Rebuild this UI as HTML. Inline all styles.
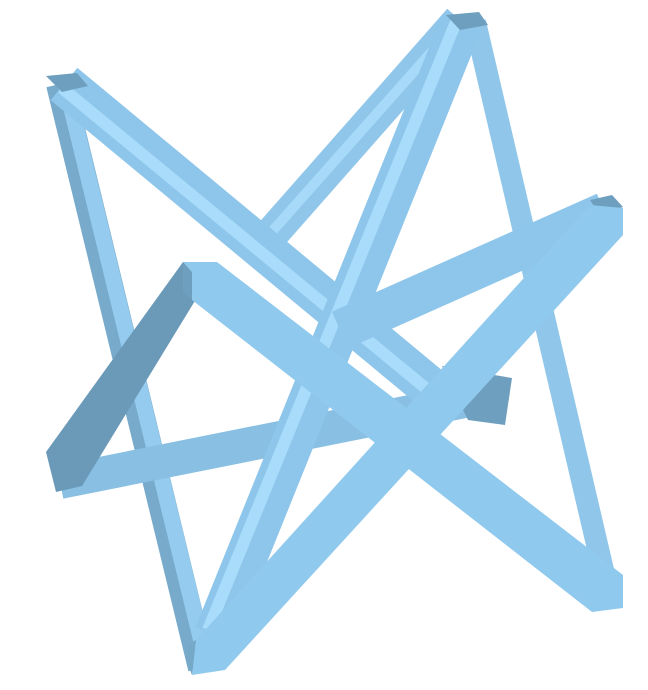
<!DOCTYPE html>
<html><head><meta charset="utf-8"><style>body{margin:0;background:#fff}svg{display:block}</style></head>
<body>
<svg width="648" height="690" viewBox="0 0 648 690">
<g stroke-linecap="butt">
  <line x1="60" y1="84" x2="202" y2="668" stroke="#78aacb" stroke-width="28"/>
  <line x1="66" y1="86" x2="207" y2="664" stroke="#94cbee" stroke-width="16"/>
  <line x1="475" y1="22" x2="610" y2="600" stroke="#8fc6ea" stroke-width="22"/>
  <line x1="460" y1="20" x2="268" y2="238" stroke="#8fc6ea" stroke-width="34"/>
  <line x1="458" y1="22" x2="268" y2="236" stroke="#a6daf8" stroke-width="10"/>
  <line x1="60" y1="482" x2="480" y2="398" stroke="#88bfe3" stroke-width="34"/>
  <polygon points="442,366 512,378 505,425 468,420" fill="#6f9fbe"/>
  <line x1="64" y1="84" x2="445" y2="400" stroke="#8ec6eb" stroke-width="42"/>
  <line x1="62" y1="88" x2="440" y2="400" stroke="#a8dcfa" stroke-width="12"/>
  <line x1="462" y1="22" x2="215" y2="635" stroke="#8ec6eb" stroke-width="42"/>
  <line x1="456" y1="22" x2="208" y2="630" stroke="#a8dcfa" stroke-width="12"/>
  <polygon points="46,76 77,73 88,86 62,92" fill="#6f9fbe"/>
  <polygon points="446,15 479,12 488,25 460,30" fill="#6f9fbe"/>
</g>
<polygon points="183,262 215,268 82,486 56,492 46,452" fill="#6b9ab9"/>
<line x1="605" y1="212" x2="340" y2="330" stroke="#8ec6eb" stroke-width="40"/>
<polygon points="590,200 612,195 623,207 600,215" fill="#6f9fbe"/>
<polygon points="590,205 623,208 623,235 225,670 192,675 196,640" fill="#90c9ee"/>
<polygon points="196,640 192,675 186,660 188,645" fill="#76a8c8"/>
<polygon points="183,262 217,262 623,575 623,608 592,612 192,300" fill="#90c9ee"/>
<polygon points="183,262 192,272 192,300 183,292" fill="#6f9fbe"/>
</svg>
</body></html>
